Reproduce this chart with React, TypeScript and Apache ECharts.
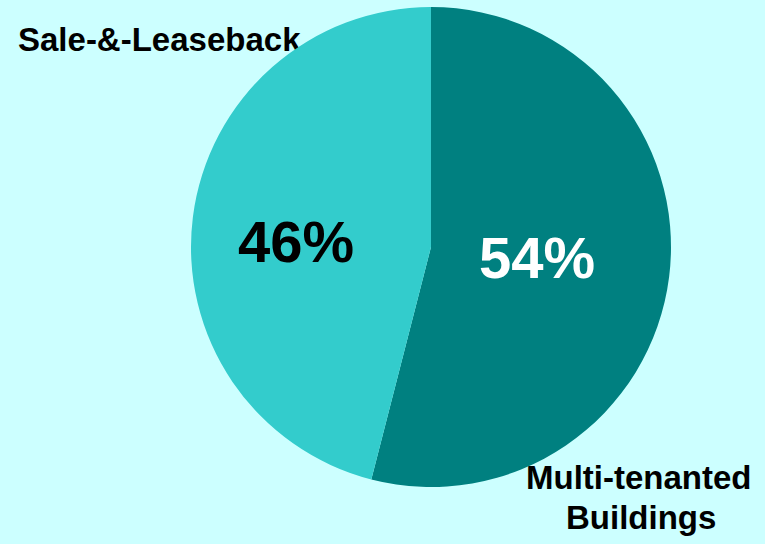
import React, { useEffect, useRef } from "react";
import * as echarts from "echarts";

const categories = ["Multi-tenanted Buildings", "Sale-&-Leaseback"];
const values = [54, 46];
const colors = ["#008080", "#33CCCC"];

export default function App() {
  const ref = useRef<HTMLDivElement>(null);
  useEffect(() => {
    document.body.style.margin = "0";
    const chart = echarts.init(ref.current!, null, { renderer: "svg" });
    const font = "'Liberation Sans', Arial, sans-serif";
    chart.setOption({
      animation: false,
      backgroundColor: "#CCFFFF",
      series: [
        {
          type: "pie",
          center: [431, 247],
          radius: [0, 240],
          startAngle: 90,
          clockwise: true,
          silent: true,
          label: {
            show: true,
            position: "inside",
            formatter: "{c}%",
            fontFamily: font,
            fontWeight: "bold",
            fontSize: 58,
          },
          labelLine: { show: false },
          itemStyle: { borderWidth: 0 },
          data: [
            {
              name: categories[0],
              value: values[0],
              itemStyle: { color: colors[0] },
              label: { color: "#FFFFFF", offset: [-16, -5] },
            },
            {
              name: categories[1],
              value: values[1],
              itemStyle: { color: colors[1] },
              label: { color: "#000000", offset: [-13, 10] },
            },
          ],
        },
      ],
      graphic: [
        {
          type: "text",
          left: 18,
          top: 23,
          style: {
            text: categories[1],
            font: `bold 33px ${font}`,
            fill: "#000000",
          },
        },
        {
          type: "text",
          left: 526,
          top: 461,
          style: {
            text: "Multi-tenanted",
            font: `bold 33px ${font}`,
            fill: "#000000",
          },
        },
        {
          type: "text",
          left: 566,
          top: 501,
          style: {
            text: "Buildings",
            font: `bold 33px ${font}`,
            fill: "#000000",
          },
        },
      ],
    });
    return () => chart.dispose();
  }, []);
  return <div ref={ref} style={{ width: 765, height: 544 }} />;
}
